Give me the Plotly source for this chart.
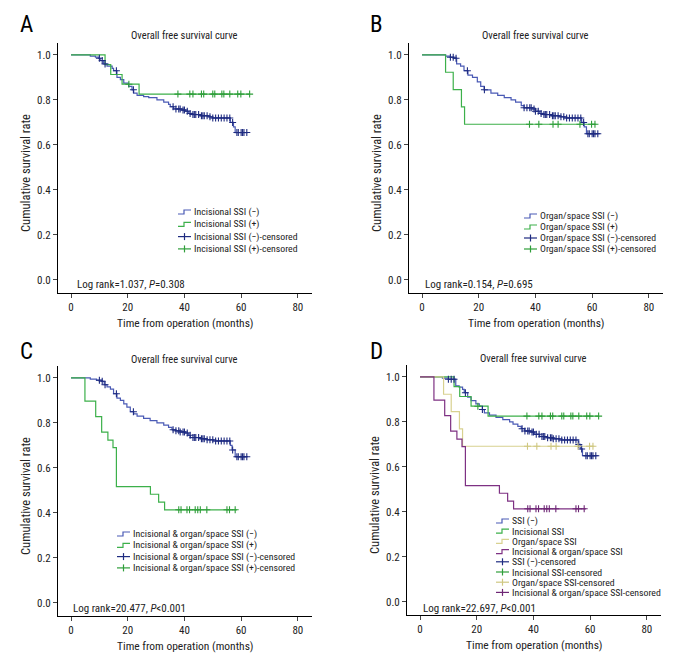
import plotly.graph_objects as go

W, H = 684, 672
PAD = 8  # default body margin of the html page
FONT = "Roboto Condensed, DejaVu Sans Condensed, sans-serif"

# ---- survival data (step times in months, survival rate) ----
inc_neg_t = [0, 6.8, 8.6, 9.8, 10.3, 11.5, 12.7, 14.5, 15, 16.2, 17.4, 18.6, 20.3, 21.5, 22.1, 23.3, 25.6,
             27.4, 30.3, 32.7, 34.4, 35, 36.2, 39.1, 40.3, 41.5, 42.7, 45.6, 48.5, 49.7, 56.2, 57.3, 57.9, 62.3]
inc_neg_s = [1.0, 0.995, 0.99, 0.985, 0.975, 0.96, 0.95, 0.94, 0.93, 0.90, 0.89, 0.875, 0.86, 0.845, 0.83, 0.82,
             0.815, 0.81, 0.80, 0.79, 0.78, 0.77, 0.76, 0.755, 0.75, 0.74, 0.735, 0.73, 0.725, 0.72, 0.70, 0.68,
             0.655, 0.655]

org_neg_t = [0, 8.3, 10, 11.2, 12.2, 13.6, 14.8, 16.2, 17.8, 19.5, 20.7, 21.9, 24.3, 26.7, 29, 31.4, 33, 35, 36,
             39, 40, 41.5, 43, 45.6, 48.6, 50.4, 56.3, 57.2, 58, 62.8]
org_neg_s = [1.0, 0.995, 0.99, 0.985, 0.96, 0.95, 0.93, 0.91, 0.90, 0.88, 0.86, 0.845, 0.83, 0.82, 0.81, 0.80,
             0.79, 0.775, 0.765, 0.76, 0.75, 0.74, 0.735, 0.73, 0.725, 0.72, 0.70, 0.68, 0.65, 0.65]

both_neg_t = [0, 6.8, 9, 10.8, 11.7, 12.7, 13.9, 15, 16.2, 17.4, 18.6, 19.7, 20.9, 22.1, 23.3, 25.6, 27.9, 30.3,
              32.7, 34.4, 35.6, 36.8, 38.5, 40.3, 41.5, 42.1, 45.6, 48, 50.3, 56.2, 56.8, 57.9, 62.3]
both_neg_s = [1.0, 0.995, 0.99, 0.985, 0.97, 0.96, 0.95, 0.93, 0.91, 0.90, 0.885, 0.87, 0.85, 0.84, 0.83, 0.82,
              0.81, 0.80, 0.79, 0.78, 0.77, 0.765, 0.76, 0.755, 0.745, 0.735, 0.73, 0.725, 0.72, 0.70, 0.68, 0.65,
              0.65]

ssi_neg_t = [0, 7.9, 10, 12.6, 13.8, 15, 15.6, 16.8, 18, 19.7, 20.9, 22, 22.7, 24.5, 26.8, 29.2, 31.6, 32.8,
             34.5, 35.7, 36.9, 39.2, 40.4, 42.2, 44.6, 47, 49.3, 55.8, 56.6, 57.3, 62.9]
ssi_neg_s = [1.0, 0.995, 0.99, 0.96, 0.955, 0.945, 0.93, 0.91, 0.895, 0.88, 0.87, 0.855, 0.84, 0.83, 0.82, 0.81,
             0.80, 0.79, 0.78, 0.77, 0.76, 0.755, 0.745, 0.735, 0.73, 0.725, 0.72, 0.70, 0.68, 0.65, 0.65]

neg_cens = [10, 11, 12, 16, 22, 36, 37, 38, 38.5, 39.5, 40, 41, 42, 43, 43.5, 44, 45, 46, 46.5, 47, 48, 49, 50,
            51, 52, 53, 54, 55, 56, 57, 58.5, 59, 60, 60.5, 61, 62]

inc_pos_t = [0, 12, 14, 18, 24, 63]
inc_pos_s = [1.0, 0.957, 0.913, 0.870, 0.826, 0.826]
inc_pos_cens = [20.4, 37.7, 41.9, 43, 46, 46.8, 50, 50.7, 53.2, 53.9, 56, 58.8, 59.9, 63]

org_pos_t = [0, 8.3, 11, 13.9, 15, 61.5]
org_pos_s = [1.0, 0.923, 0.846, 0.769, 0.692, 0.692]
org_pos_cens = [37.9, 41.2, 46.2, 48, 55.7, 59.8, 61]

both_pos_t = [0, 4.9, 8.7, 10.8, 13, 14.8, 16, 28, 30.9, 33, 58.5]
both_pos_s = [1.0, 0.897, 0.828, 0.759, 0.724, 0.690, 0.517, 0.483, 0.448, 0.414, 0.414]
both_pos_cens = [38, 38.8, 40.9, 41.8, 43.8, 44.7, 45.6, 47.9, 55, 55.9, 57.9]

x_ticks = [0, 20, 40, 60, 80]
y_ticks = [0.0, 0.2, 0.4, 0.6, 0.8, 1.0]

BLUE, BLUE_M = "#4a5ab5", "#1e2b80"
GREEN, GREEN_M = "#3cb04a", "#2f9e3a"
YELLOW, YELLOW_M = "#d8d190", "#cfc781"
PURPLE, PURPLE_M = "#7e3183", "#6e2675"


def step_value(ts, ss, t):
    v = ss[0]
    for ti, si in zip(ts, ss):
        if ti <= t:
            v = si
    return v


panels = [
    dict(letter="A", dom=(58, 312, 43, 293), letter_xy=(18, 25),
         curves=[("Incisional SSI (\u2212)", inc_neg_t, inc_neg_s, neg_cens, BLUE, BLUE_M),
                 ("Incisional SSI (+)", inc_pos_t, inc_pos_s, inc_pos_cens, GREEN, GREEN_M)],
         leg=(178, 212, 12.3), logrank=("Log rank=1.037, <i>P</i>=0.308", 75, 284)),
    dict(letter="B", dom=(409, 663, 43, 293), letter_xy=(368, 25),
         curves=[("Organ/space SSI (\u2212)", org_neg_t, org_neg_s, neg_cens, BLUE, BLUE_M),
                 ("Organ/space SSI (+)", org_pos_t, org_pos_s, org_pos_cens, GREEN, GREEN_M)],
         leg=(524, 216, 11), logrank=("Log rank=0.154, <i>P</i>=0.695", 423, 284)),
    dict(letter="C", dom=(58, 312, 366, 616), letter_xy=(18, 351),
         curves=[("Incisional & organ/space SSI (\u2212)", both_neg_t, both_neg_s, neg_cens, BLUE, BLUE_M),
                 ("Incisional & organ/space SSI (+)", both_pos_t, both_pos_s, both_pos_cens, GREEN, GREEN_M)],
         leg=(117, 534, 11.3), logrank=("Log rank=20.477, <i>P</i>&lt;0.001", 71, 608)),
    dict(letter="D", dom=(407, 661, 365, 615), letter_xy=(368, 351),
         curves=[("SSI (\u2212)", ssi_neg_t, ssi_neg_s, neg_cens, BLUE, BLUE_M),
                 ("Incisional SSI", inc_pos_t, inc_pos_s, inc_pos_cens, GREEN, GREEN_M),
                 ("Organ/space SSI", org_pos_t, org_pos_s, org_pos_cens, YELLOW, YELLOW_M),
                 ("Incisional & organ/space SSI", both_pos_t, both_pos_s, both_pos_cens, PURPLE, PURPLE_M)],
         leg=(496, 521, 10.2), logrank=("Log rank=22.697, <i>P</i>&lt;0.001", 421, 608)),
]

FW, FH = W - PAD, H - PAD


def px(x):
    return (x - PAD) / FW


def py(y):
    return 1 - (y - PAD) / FH


fig = go.Figure()
annotations = []
shapes = []

for i, p in enumerate(panels):
    n = "" if i == 0 else str(i + 1)
    x0, x1, yt, yb = p["dom"]
    for name, ts, ss, cens, col, mcol in p["curves"]:
        fig.add_trace(go.Scatter(x=ts, y=ss, mode="lines", line=dict(color=col, width=1.2, shape="hv"),
                                 xaxis="x" + n, yaxis="y" + n, showlegend=False, name=name))
    for name, ts, ss, cens, col, mcol in p["curves"]:
        fig.add_trace(go.Scatter(x=cens, y=[step_value(ts, ss, c) for c in cens], mode="markers",
                                 marker=dict(symbol="cross-thin", size=5, line=dict(color=mcol, width=1.1)),
                                 xaxis="x" + n, yaxis="y" + n, showlegend=False, name=name + "-censored"))

    fig.update_layout({
        "xaxis" + n: dict(domain=[px(x0), px(x1)], range=[-4.6, 85], tickvals=x_ticks, ticks="outside",
                          ticklen=4, showline=True, linecolor="black", linewidth=1, showgrid=False,
                          zeroline=False, anchor="y" + n, tickfont=dict(size=11, color="#222", family=FONT)),
        "yaxis" + n: dict(domain=[py(yb), py(yt)], range=[-0.058, 1.053], tickvals=y_ticks, tickformat=".1f",
                          ticks="outside", ticklen=4, showline=True, linecolor="black", linewidth=1,
                          showgrid=False, zeroline=False, anchor="x" + n,
                          tickfont=dict(size=11, color="#222", family=FONT)),
    })

    cx = (x0 + x1) / 2
    annotations += [
        dict(text=p["letter"], x=px(p["letter_xy"][0]), y=py(p["letter_xy"][1]), xref="paper", yref="paper",
             xanchor="left", yanchor="middle", showarrow=False, font=dict(size=23, color="black", family=FONT)),
        dict(text="Overall free survival curve", x=px(cx - 1), y=py(yt - 7), xref="paper", yref="paper",
             xanchor="center", yanchor="middle", showarrow=False, font=dict(size=10.5, color="#222", family=FONT)),
        dict(text="Time from operation (months)", x=px(cx), y=py(yb + 30), xref="paper", yref="paper",
             xanchor="center", yanchor="middle", showarrow=False, font=dict(size=11.5, color="#222", family=FONT)),
        dict(text="Cumulative survival rate", x=px(x0 - 33), y=py((yt + yb) / 2 + 5), xref="paper", yref="paper",
             xanchor="center", yanchor="middle", textangle=-90, showarrow=False,
             font=dict(size=12.5, color="#222", family=FONT)),
        dict(text=p["logrank"][0], x=px(p["logrank"][1]), y=py(p["logrank"][2]), xref="paper", yref="paper",
             xanchor="left", yanchor="middle", showarrow=False, font=dict(size=11, color="#222", family=FONT)),
    ]

    # legend drawn by hand: step glyphs for curves, crosses for censored marks
    gx, gy, gap = p["leg"]
    rows = [(c[0], c[4], "step") for c in p["curves"]] + [(c[0] + "-censored", c[5], "cross") for c in p["curves"]]
    for k, (label, col, kind) in enumerate(rows):
        ry = gy + k * gap
        if kind == "step":
            path = "M{},{} L{},{} L{},{} L{},{}".format(px(gx), py(ry + 2), px(gx + 6), py(ry + 2),
                                                        px(gx + 6), py(ry - 2), px(gx + 13), py(ry - 2))
            shapes.append(dict(type="path", path=path, xref="paper", yref="paper", line=dict(color=col, width=1.2)))
        else:
            shapes.append(dict(type="line", x0=px(gx), x1=px(gx + 13), y0=py(ry), y1=py(ry), xref="paper",
                               yref="paper", line=dict(color=col, width=1.2)))
            shapes.append(dict(type="line", x0=px(gx + 6.5), x1=px(gx + 6.5), y0=py(ry - 3.5), y1=py(ry + 3.5),
                               xref="paper", yref="paper", line=dict(color=col, width=1.2)))
        annotations.append(dict(text=label, x=px(gx + 14), y=py(ry), xref="paper", yref="paper", xanchor="left",
                                yanchor="middle", showarrow=False, font=dict(size=9.8, color="#222", family=FONT)))

fig.update_layout(width=FW, height=FH, margin=dict(l=0, r=0, t=0, b=0), paper_bgcolor="white",
                  plot_bgcolor="white", showlegend=False, annotations=annotations, shapes=shapes,
                  font=dict(family=FONT, color="#222"))

fig.write_html("out.html")
